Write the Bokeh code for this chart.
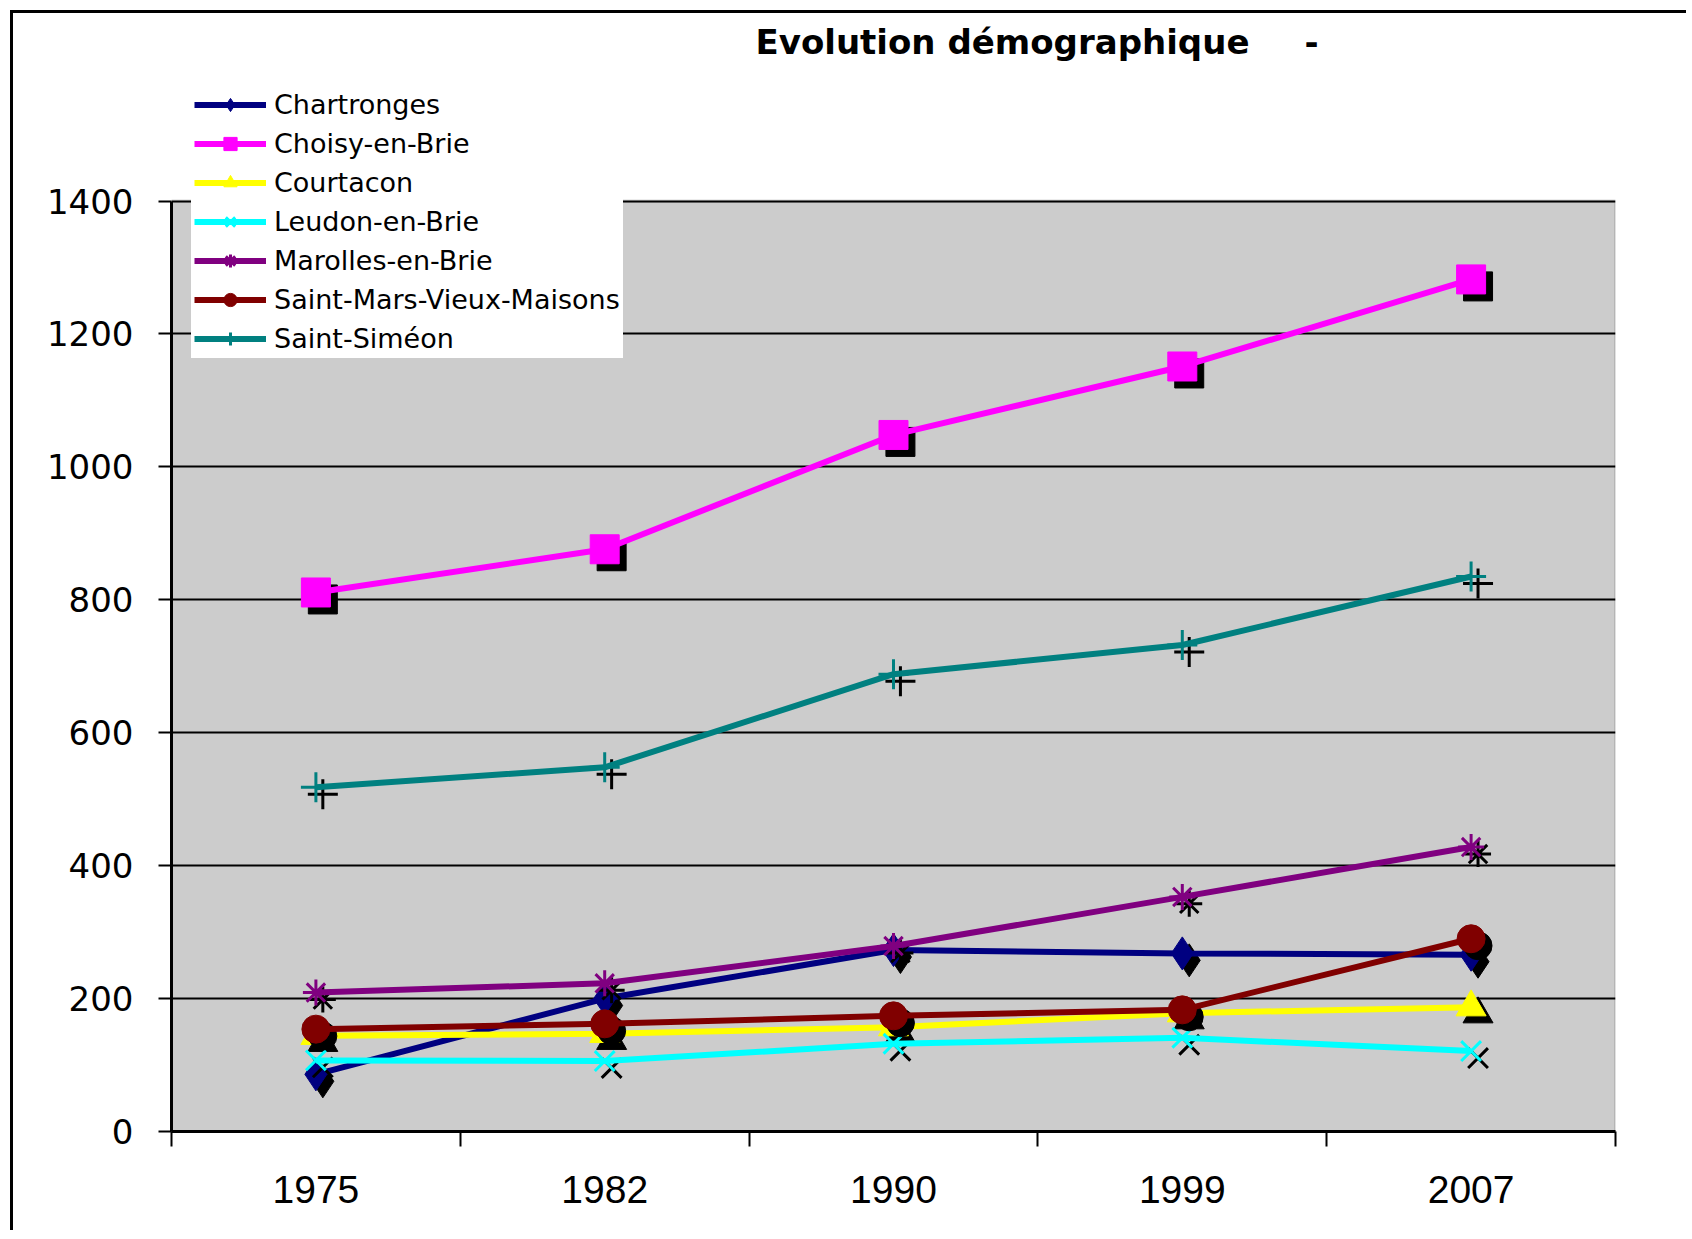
from bokeh.plotting import figure
from bokeh.models import Range1d, FixedTicker, Legend, LegendItem, Label, ColumnDataSource, BoxAnnotation
from bokeh.transform import dodge
from bokeh.embed import file_html
from bokeh.resources import INLINE

# ---- data ----
years = ["1975", "1982", "1990", "1999", "2007"]
series_names = ["Chartronges", "Choisy-en-Brie", "Courtacon", "Leudon-en-Brie",
                "Marolles-en-Brie", "Saint-Mars-Vieux-Maisons", "Saint-Siméon"]
chartronges = [86, 200, 273, 268, 266]
choisy = [811, 876, 1048, 1151, 1282]
courtacon = [144, 147, 157, 178, 187]
leudon = [107, 106, 132, 141, 121]
marolles = [209, 223, 279, 353, 428]
saint_mars = [154, 162, 174, 183, 290]
saint_simeon = [518, 548, 688, 732, 835]
y_ticks = [0, 200, 400, 600, 800, 1000, 1200, 1400]
title_text = "Evolution démographique"

series_values = [chartronges, choisy, courtacon, leudon, marolles, saint_mars, saint_simeon]
colors = ["#000080", "#FF00FF", "#FFFF00", "#00FFFF", "#800080", "#800000", "#008080"]
markers = ["diamond", "square", "triangle", "x", "asterisk", "circle", "cross"]
sizes = [33, 29, 30, 28, 26, 28, 30]
mlw = [1, 1, 1, 3, 3, 1, 3]

W, H = 1676, 1220
n = len(years)
y_min, y_max = y_ticks[0], y_ticks[-1]
# frame is extended above the value axis so the title and legend can sit in it
y_top = y_max * (1131 - 20) / (1131 - 200.5)

p = figure(width=W, height=H, output_backend="svg", toolbar_location=None,
           x_range=Range1d(-0.5, n - 0.5), y_range=Range1d(y_min, y_top),
           min_border_left=158, min_border_right=74, min_border_top=7, min_border_bottom=102,
           background_fill_color="white", border_fill_color="white",
           styles={"margin-left": "10px", "margin-top": "10px",
                   "border-left": "3px solid black", "border-top": "3px solid black"})
p.outline_line_color = None

# grey plot area with grey border
p.add_layout(BoxAnnotation(left=-0.5, right=n - 0.5, bottom=y_min, top=y_max,
                           fill_color="#CCCCCC", fill_alpha=1.0,
                           line_color="#808080", line_width=3, level="image"))

# x axis: labels at category centres, ticks at boundaries
xa = p.xaxis[0]
xa.ticker = FixedTicker(ticks=list(range(n)), minor_ticks=[i - 0.5 for i in range(n + 1)])
xa.major_label_overrides = {i: y for i, y in enumerate(years)}
xa.major_tick_out = 0
xa.major_tick_in = 0
xa.minor_tick_out = 15
xa.minor_tick_in = 0
xa.minor_tick_line_color = "black"
xa.minor_tick_line_width = 2
xa.axis_line_color = "black"
xa.axis_line_width = 3
xa.major_label_standoff = 29
xa.major_label_text_font = "Liberation Sans"
xa.major_label_text_font_size = "39px"
xa.major_label_text_color = "black"

ya = p.yaxis[0]
ya.ticker = FixedTicker(ticks=y_ticks)
ya.bounds = (y_min, y_max)
ya.major_tick_out = 13
ya.major_tick_in = 0
ya.major_tick_line_color = "black"
ya.major_tick_line_width = 2
ya.minor_tick_out = 0
ya.minor_tick_in = 0
ya.axis_line_color = "black"
ya.axis_line_width = 3
ya.major_label_standoff = 25
ya.major_label_text_font = "DejaVu Sans"
ya.major_label_text_font_size = "34px"
ya.major_label_text_color = "black"

p.xgrid.visible = False
p.ygrid.grid_line_color = "black"
p.ygrid.grid_line_width = 2
p.ygrid.bounds = (y_min, y_max - 1)

items = []
for name, vals, color, marker, size, lw in zip(series_names, series_values, colors, markers, sizes, mlw):
    src = ColumnDataSource(dict(x=list(range(n)), y=vals))
    p.scatter(dodge("x", 0.024), dodge("y", -10.5), source=src, marker=marker, size=size,
              fill_color="black", line_color="black", line_width=lw)
    ln = p.line("x", "y", source=src, line_color=color, line_width=6)
    sc = p.scatter("x", "y", source=src, marker=marker, size=size,
                   fill_color=color, line_color=color, line_width=lw)
    items.append(LegendItem(label=name, renderers=[ln, sc]))

legend = Legend(items=items, location=(20, 773), background_fill_color="white",
                background_fill_alpha=1.0, border_line_alpha=0.0,
                glyph_width=72, glyph_height=33, label_standoff=8, spacing=6,
                padding=3, margin=0, label_text_font="DejaVu Sans",
                label_text_font_size="27px", label_text_color="black")
p.add_layout(legend)

p.add_layout(Label(x=584, y=1090, x_units="screen", y_units="screen", text=title_text,
                   text_font="DejaVu Sans", text_font_style="bold", text_font_size="34px",
                   text_baseline="middle", text_align="left", text_color="black"))
p.add_layout(Label(x=1140, y=1090, x_units="screen", y_units="screen", text="-",
                   text_font="DejaVu Sans", text_font_style="bold", text_font_size="34px",
                   text_baseline="middle", text_align="center", text_color="black"))

open("out.html", "w").write(file_html(p, INLINE))
